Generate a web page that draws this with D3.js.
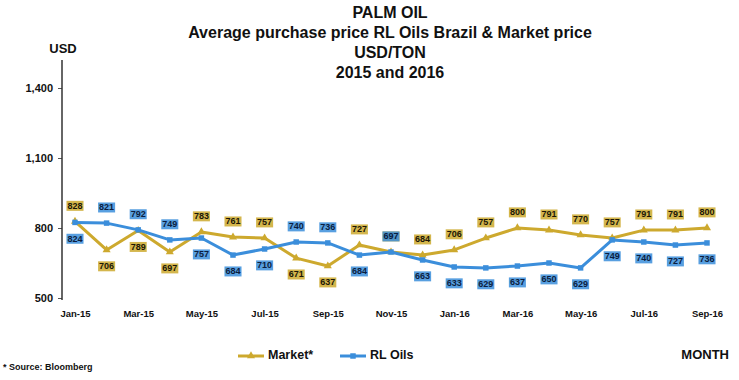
<!DOCTYPE html>
<html><head><meta charset="utf-8">
<script src="https://cdn.jsdelivr.net/npm/d3@7"></script>
<style>
body{margin:0;background:#fff;}
svg{display:block;font-family:"Liberation Sans",Arial,sans-serif;}
</style></head>
<body>
<script>
const months = ["Jan-15","Feb-15","Mar-15","Apr-15","May-15","Jun-15","Jul-15","Aug-15","Sep-15","Oct-15","Nov-15","Dec-15","Jan-16","Feb-16","Mar-16","Apr-16","May-16","Jun-16","Jul-16","Aug-16","Sep-16"];
const tickMonths = ["Jan-15","Mar-15","May-15","Jul-15","Sep-15","Nov-15","Jan-16","Mar-16","May-16","Jul-16","Sep-16"];
const market = [828,706,789,697,783,761,757,671,637,727,697,684,706,757,800,791,770,757,791,791,800];
const rlOils = [824,821,792,749,757,684,710,740,736,684,697,663,633,629,637,650,629,749,740,727,736];
const yTicks = [500,800,1100,1400];
const titleLines = ["PALM OIL","Average purchase price RL Oils Brazil & Market price","USD/TON","2015 and 2016"];
const seriesNames = ["Market*","RL Oils"];

const W=739,H=380;
const gold="#CDA92E", blue="#3B8EDB";
const svg=d3.select("body").append("svg").attr("width",W).attr("height",H);

const x=d3.scalePoint().domain(months).range([75,707]);
const y=d3.scaleLinear().domain([500,1400]).range([298,88]);

// titles
const tY=[14,34,54,74];
svg.selectAll("text.title").data(titleLines).join("text")
  .attr("x",390).attr("y",(d,i)=>tY[i]).attr("text-anchor","middle")
  .attr("dominant-baseline","middle").attr("font-weight","bold").attr("font-size",16).attr("fill","#111")
  .text(d=>d);

// y axis
const yAxis=d3.axisLeft(y).tickValues(yTicks).tickSize(4).tickPadding(5).tickFormat(d3.format(","));
const ga=svg.append("g").attr("transform","translate(62,0)").call(yAxis);
ga.select(".domain").remove();
ga.selectAll("line").attr("stroke","#555");
ga.selectAll("text").attr("font-weight","bold").attr("font-size",11).attr("fill","#111").attr("font-family","Liberation Sans, Arial");
svg.append("line").attr("x1",62).attr("x2",62).attr("y1",60).attr("y2",300).attr("stroke","#333").attr("stroke-width",1.5);
svg.append("text").attr("x",63).attr("y",50).attr("text-anchor","middle").attr("dominant-baseline","middle")
  .attr("font-weight","bold").attr("font-size",13).attr("fill","#111").text("USD");

// x axis labels
const xAxis=d3.axisBottom(x).tickValues(tickMonths).tickSize(0).tickPadding(0);
const gx=svg.append("g").attr("transform","translate(0,310)").call(xAxis);
gx.select(".domain").remove();
gx.selectAll("text").attr("font-weight","bold").attr("font-size",9.5).attr("fill","#111").attr("font-family","Liberation Sans, Arial");

const line=d3.line().x((d,i)=>x(months[i])).y(d=>y(d));
const series=[{vals:market,other:rlOils,color:gold,sym:d3.symbolTriangle,size:28,txt:"#1b1606"},
              {vals:rlOils,other:market,color:blue,sym:d3.symbolSquare,size:30,txt:"#0b1d3f"}];
series.forEach(s=>{
  svg.append("path").datum(s.vals).attr("d",line).attr("fill","none").attr("stroke",s.color).attr("stroke-width",3).attr("stroke-linejoin","round");
  svg.selectAll(null).data(s.vals).join("path")
    .attr("d",d3.symbol().type(s.sym).size(s.size))
    .attr("transform",(d,i)=>`translate(${x(months[i])},${y(d)})`).attr("fill",s.color);
});
// data labels
series.forEach(s=>{
  s.vals.forEach((v,i)=>{
    const above = v>=s.other[i];
    const cx=x(months[i]), cy=y(v)+(above?-15:17);
    const g=svg.append("g");
    const t=g.append("text").attr("x",cx).attr("y",cy).attr("text-anchor","middle").attr("dominant-baseline","middle")
      .attr("font-weight","bold").attr("font-size",9).attr("fill",s.txt).text(d3.format(",")(v));
    const bb=t.node().getBBox();
    g.insert("rect","text").attr("x",bb.x-1).attr("y",bb.y).attr("width",bb.width+2).attr("height",bb.height)
      .attr("fill",s.color).attr("opacity",0.85);
  });
});

// legend
const leg=[{x:238,color:gold,sym:d3.symbolTriangle,size:28,name:seriesNames[0]},{x:340,color:blue,sym:d3.symbolSquare,size:30,name:seriesNames[1]}];
leg.forEach(l=>{
  svg.append("line").attr("x1",l.x).attr("x2",l.x+26).attr("y1",356).attr("y2",356).attr("stroke",l.color).attr("stroke-width",3);
  svg.append("path").attr("d",d3.symbol().type(l.sym).size(l.size)).attr("transform",`translate(${l.x+13},356)`).attr("fill",l.color);
  svg.append("text").attr("x",l.x+30).attr("y",356).attr("dominant-baseline","middle").attr("font-weight","bold")
    .attr("font-size",12.5).attr("fill","#111").text(l.name);
});
svg.append("text").attr("x",729).attr("y",356).attr("text-anchor","end").attr("dominant-baseline","middle")
  .attr("font-weight","bold").attr("font-size",13).attr("fill","#111").text("MONTH");
svg.append("text").attr("x",3).attr("y",368).attr("dominant-baseline","middle")
  .attr("font-weight","bold").attr("font-size",9).attr("fill","#111").text("* Source: Bloomberg");
</script>
</body></html>
